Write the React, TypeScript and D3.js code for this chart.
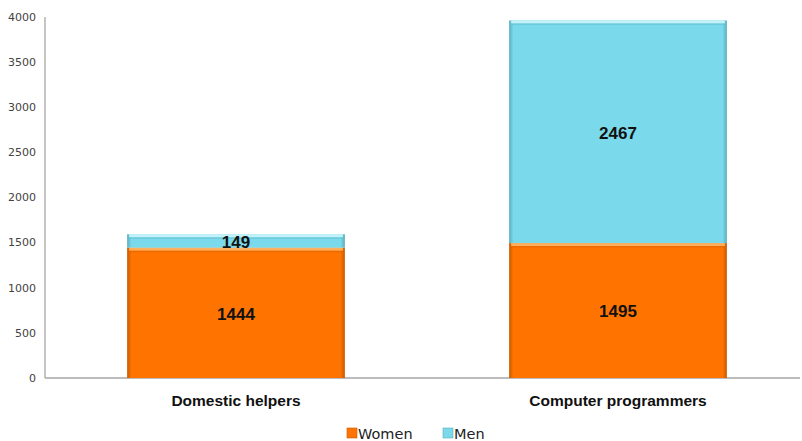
import React from 'react';
import * as d3 from 'd3';

const categories = ['Domestic helpers', 'Computer programmers'];
const women = [1444, 1495];
const men = [149, 2467];
const yTicks = [0, 500, 1000, 1500, 2000, 2500, 3000, 3500, 4000];
const seriesNames = ['Women', 'Men'];

const width = 802;
const height = 441;
const left = 45;
const right = 809;
const top = 17;
const bottom = 378;

const colors = { Women: '#ff7400', Men: '#7ad9ea' };
const edge = { Women: '#c85a00', Men: '#5aaebe' };
const light = { Women: '#ffae5c', Men: '#c4f2fa' };

const App: React.FC = () => {
  const x = d3.scaleBand().domain(categories).range([left, right]).paddingInner(0.43).paddingOuter(0.215);
  const y = d3.scaleLinear().domain([0, 4000]).range([bottom, top]);

  const rows = categories.map((c, i) => ({ cat: c, Women: women[i], Men: men[i] }));
  const stack = d3.stack<any>().keys(seriesNames)(rows);
  const font = 'Verdana, "DejaVu Sans", sans-serif';
  const boldFont = '"Liberation Sans", Arial, sans-serif';

  return (
    <svg width={width} height={height} style={{ position: 'absolute', left: 0, top: 0, background: '#fff' }}>
      <defs>
        {seriesNames.map(s => (
          <linearGradient key={s} id={`side-${s}`} x1="0" x2="1" y1="0" y2="0">
            <stop offset="0" stopColor={edge[s]} />
            <stop offset="0.02" stopColor={colors[s]} />
            <stop offset="0.98" stopColor={colors[s]} />
            <stop offset="1" stopColor={edge[s]} />
          </linearGradient>
        ))}
      </defs>
      {/* axes */}
      <line x1={left} x2={left} y1={top} y2={bottom} stroke="#a6a6a6" strokeWidth={1.3} />
      <line x1={left} x2={800} y1={bottom} y2={bottom} stroke="#a6a6a6" strokeWidth={1.3} />
      {yTicks.map(t => (
        <text key={t} x={36} y={y(t)} dy="0.35em" textAnchor="end" fontFamily={font} fontSize={11} fill="#444">
          {t}
        </text>
      ))}
      {/* bars */}
      {stack.map(layer => {
        const s = layer.key;
        return layer.map((d, i) => {
          const bx = x(categories[i])!;
          const bw = x.bandwidth();
          const y0 = y(d[0]);
          const y1 = y(d[1]);
          const h = y0 - y1;
          return (
            <g key={s + i}>
              <rect x={bx} y={y1} width={bw} height={h} fill={`url(#side-${s})`} />
              <rect x={bx + 2} y={y1} width={bw - 4} height={Math.min(3, h / 3)} fill={light[s]} />
              <rect x={bx + 2} y={y1 + Math.min(3, h / 3)} width={bw - 4} height={Math.min(1.5, h / 4)} fill={edge[s]} opacity={0.35} />
              <text
                x={bx + bw / 2}
                y={(y0 + y1) / 2 + 1}
                dy="0.35em"
                textAnchor="middle"
                fontFamily={boldFont}
                fontWeight="bold"
                fontSize={17}
                fill="#111"
              >
                {s === 'Women' ? women[i] : men[i]}
              </text>
            </g>
          );
        });
      })}
      {/* category labels */}
      {categories.map(c => (
        <text key={c} x={x(c)! + x.bandwidth() / 2} y={401} dy="0.35em" textAnchor="middle" fontFamily={boldFont} fontWeight="bold" fontSize={15.5} fill="#111">
          {c}
        </text>
      ))}
      {/* legend */}
      {seriesNames.map((s, i) => {
        const lx = i === 0 ? 347 : 443;
        return (
          <g key={s}>
            <rect x={lx} y={428} width={10} height={10} fill={colors[s]} stroke={edge[s]} strokeWidth={0.6} />
            <text x={lx + 11} y={433.5} dy="0.35em" fontFamily={font} fontSize={14.5} fill="#222">
              {s}
            </text>
          </g>
        );
      })}
    </svg>
  );
};

export default App;
